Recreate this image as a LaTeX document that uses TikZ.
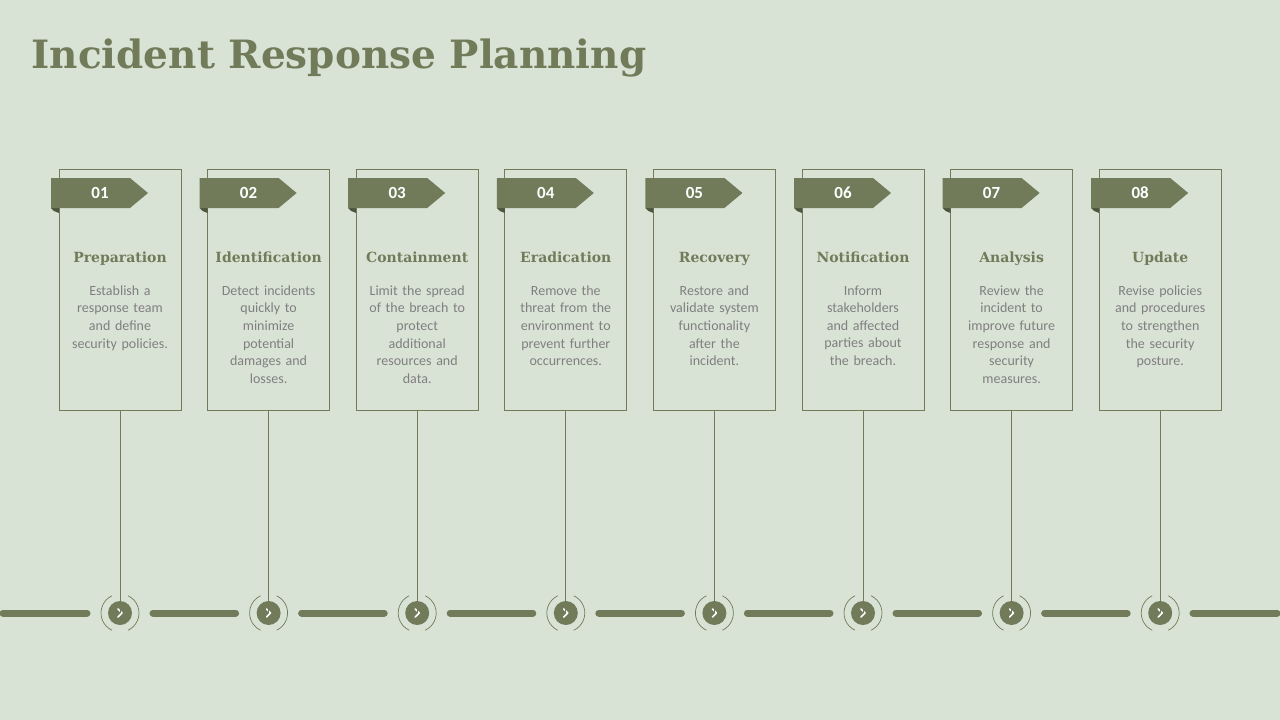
\documentclass[tikz,border=0pt]{standalone}
\usepackage{fontspec}
\setmainfont{Carlito}
\newfontfamily\headf{DejaVu Serif}
\begin{document}
\definecolor{bg}{HTML}{D9E3D5}
\definecolor{dg}{HTML}{717B5A}
\definecolor{dk}{HTML}{4E553D}
\definecolor{tx}{HTML}{7F7F7F}
\begin{tikzpicture}[x=1pt,y=-1pt,
  card/.style={draw=dg,line width=0.8pt,minimum width=122pt,minimum height=241pt,anchor=north,inner sep=0},
  num/.style={text=white,font=\bfseries\fontsize{17}{17}\selectfont},
  head/.style={text=dg,font=\headf\bfseries\fontsize{14}{16}\selectfont,anchor=base},
  body/.style={text=tx,font=\fontsize{14}{17.6}\selectfont,align=center,text width=116pt,anchor=north},
  seg/.style={dg,line width=7pt,line cap=round},
  stem/.style={dg,line width=0.8pt}]
\fill[bg] (0,0) rectangle (1280,720);
\useasboundingbox (0,0) rectangle (1280,720);
\node[anchor=base west,text=dg,font=\headf\bfseries\fontsize{39}{39}\selectfont] (title) at (28,68) {Incident Response Planning};
\foreach \i/\n/\h/\b in {
 0/01/Preparation/{Establish a\\response team\\and define\\security policies.},
 1/02/Identification/{Detect incidents\\quickly to\\minimize\\potential\\damages and\\losses.},
 2/03/Containment/{Limit the spread\\of the breach to\\protect\\additional\\resources and\\data.},
 3/04/Eradication/{Remove the\\threat from the\\environment to\\prevent further\\occurrences.},
 4/05/Recovery/{Restore and\\validate system\\functionality\\after the\\incident.},
 5/06/Notification/{Inform\\stakeholders\\and affected\\parties about\\the breach.},
 6/07/Analysis/{Review the\\incident to\\improve future\\response and\\security\\measures.},
 7/08/Update/{Revise policies\\and procedures\\to strengthen\\the security\\posture.}}{
 \pgfmathsetmacro{\c}{120+148.6*\i}
 \node[card] (card\i) at (\c,169) {};
 \fill[dk] (\c-69,208) -- (\c-61,208) -- (\c-61,213) -- (\c-66,211) -- cycle;
 \fill[dg] (\c-69,178) -- (\c+10,178) -- (\c+28,193) -- (\c+10,208) -- (\c-69,208) -- cycle;
 \node[num] (num\i) at (\c-20,193) {\n};
 \node[head] (head\i) at (\c,262) {\h};
 \node[body] (body\i) at (\c,282) {\b};
 \node[circle,fill=dg,minimum size=24pt,inner sep=0] (dot\i) at (\c,613) {};
 \draw[white,line width=1.6pt,line cap=round,line join=round] (\c-2,609) -- (\c+2,613) -- (\c-2,617);
 \draw[stem] (card\i.south) -- (dot\i.center);
 \draw[dg,line width=0.7pt] (\c,613) ++(115:19) arc (115:245:19);
 \draw[dg,line width=0.7pt] (\c,613) ++(-65:19) arc (-65:65:19);
}
\foreach \i in {0,...,6}{
 \pgfmathsetmacro{\a}{120+148.6*\i+33}
 \pgfmathsetmacro{\bb}{120+148.6*(\i+1)-33}
 \draw[seg] (\a,613) -- (\bb,613);
}
\draw[seg] (3,613) -- (87,613);
\draw[seg] (1193,613) -- (1277,613);
\end{tikzpicture}
\end{document}
